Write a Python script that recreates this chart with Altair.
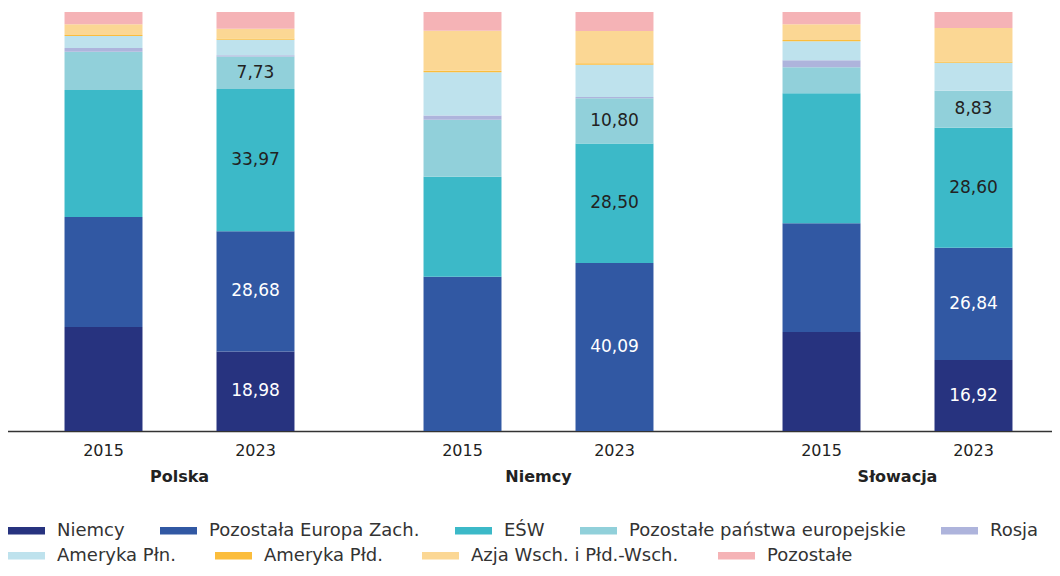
import altair as alt
import pandas as pd

FONT = "DejaVu Sans"

country_order = ["Polska", "Niemcy", "Słowacja"]
countries = ["Polska", "Polska", "Niemcy", "Niemcy", "Słowacja", "Słowacja"]
years = ["2015", "2023", "2015", "2023", "2015", "2023"]

categories = [
    "Niemcy",
    "Pozostała Europa Zach.",
    "EŚW",
    "Pozostałe państwa europejskie",
    "Rosja",
    "Ameryka Płn.",
    "Ameryka Płd.",
    "Azja Wsch. i Płd.-Wsch.",
    "Pozostałe",
]
colors = [
    "#27337f",
    "#3158a3",
    "#3cb9c8",
    "#91d0da",
    "#aeb4dc",
    "#bee2ed",
    "#fbbd3c",
    "#fbd794",
    "#f5b3b6",
]

# values per bar: Polska 2015, Polska 2023, Niemcy 2015, Niemcy 2023, Słowacja 2015, Słowacja 2023
niemcy = [24.8, 18.98, 0.0, 0.0, 23.6, 16.92]
pozostala_europa_zach = [26.3, 28.68, 36.8, 40.09, 26.0, 26.84]
esw = [30.3, 33.97, 23.9, 28.50, 31.0, 28.60]
pozostale_panstwa_eur = [9.1, 7.73, 13.6, 10.80, 6.2, 8.83]
rosja = [0.9, 0.34, 1.0, 0.3, 1.7, 0.0]
ameryka_pln = [2.9, 3.7, 10.3, 7.7, 4.5, 6.7]
ameryka_pld = [0.2, 0.3, 0.4, 0.4, 0.3, 0.3]
azja = [2.6, 2.3, 9.5, 7.7, 3.8, 8.0]
pozostale = [2.9, 4.0, 4.5, 4.5, 2.9, 3.8]

series = [niemcy, pozostala_europa_zach, esw, pozostale_panstwa_eur, rosja,
          ameryka_pln, ameryka_pld, azja, pozostale]
labeled_categories = categories[:4]
white_label_categories = categories[:2]
labeled_year = "2023"
legend_row1 = categories[:5]
legend_row2 = categories[5:]

rows = []
for ci, (cat, vals) in enumerate(zip(categories, series)):
    for country, year, v in zip(countries, years, vals):
        show = cat in labeled_categories and year == labeled_year and v > 0
        rows.append({
            "country": country,
            "year": year,
            "category": cat,
            "order": ci,
            "value": v,
            "label": f"{v:.2f}".replace(".", ",") if show else "",
            "dark": cat in white_label_categories,
        })
df = pd.DataFrame(rows)

base = alt.Chart(df).transform_stack(
    stack="value",
    groupby=["country", "year"],
    as_=["y0", "y1"],
    sort=[alt.SortField("order", "ascending")],
).transform_calculate(mid="(datum.y0 + datum.y1) / 2")

x_enc = alt.X(
    "country:N",
    sort=country_order,
    scale=alt.Scale(range=[0, 1077], paddingInner=0, paddingOuter=0),
    axis=alt.Axis(
        title=None, ticks=False, labelAngle=0, labelFont=FONT,
        labelFontSize=16, labelFontWeight="bold", labelColor="#222",
        labelPadding=37, domainColor="#333", domainWidth=1.5,
    ),
)
xo_enc = alt.XOffset("year:N", scale=alt.Scale(paddingInner=0.487, paddingOuter=0.4245))
y_scale = alt.Scale(domain=[0, 100])
SYMBOL = "M-1,-0.2L1,-0.2L1,0.2L-1,0.2Z"


def make_legend(y_pos, col_pad):
    return alt.Legend(
        title=None, orient="none", legendX=8, legendY=y_pos,
        direction="horizontal", symbolType=SYMBOL,
        symbolSize=1369, symbolStrokeWidth=0, symbolOpacity=1,
        labelFont=FONT, labelFontSize=18, labelColor="#333",
        columnPadding=col_pad, labelOffset=12, padding=0,
        symbolLimit=0, labelLimit=0,
    )


bars_a = base.transform_filter("datum.order < 5").mark_bar().encode(
    x=x_enc,
    xOffset=xo_enc,
    y=alt.Y("y0:Q", scale=y_scale, axis=None),
    y2="y1:Q",
    color=alt.Color(
        "category:N",
        sort=legend_row1,
        scale=alt.Scale(domain=legend_row1, range=colors[:5]),
        legend=make_legend(500, 35),
    ),
)

bars_b = base.transform_filter("datum.order >= 5").mark_bar().encode(
    x=x_enc,
    xOffset=xo_enc,
    y=alt.Y("y0:Q", scale=y_scale, axis=None),
    y2="y1:Q",
    fill=alt.Fill(
        "category:N",
        sort=legend_row2,
        scale=alt.Scale(domain=legend_row2, range=colors[5:]),
        legend=make_legend(525, 39),
    ),
)

value_labels = base.transform_filter("datum.label != ''").mark_text(
    font=FONT, fontSize=17, baseline="middle"
).encode(
    x=x_enc,
    xOffset=xo_enc,
    y=alt.Y("mid:Q", scale=y_scale, axis=None),
    text="label:N",
    color=alt.condition("datum.dark", alt.value("white"), alt.value("#222")),
)

year_labels = base.transform_filter("datum.order == 0").mark_text(
    font=FONT, fontSize=16, baseline="middle", color="#222"
).encode(
    x=x_enc,
    xOffset=xo_enc,
    y=alt.value(439),
    text="year:N",
)

chart = alt.layer(bars_a, bars_b, value_labels, year_labels).properties(
    width=1052, height=419,
    autosize=alt.AutoSizeParams(type="none"),
    padding={"left": -8, "top": 4, "right": 0, "bottom": 137},
).configure_view(stroke=None)

chart.save("out.html", embed_options={"renderer": "svg", "actions": False})
